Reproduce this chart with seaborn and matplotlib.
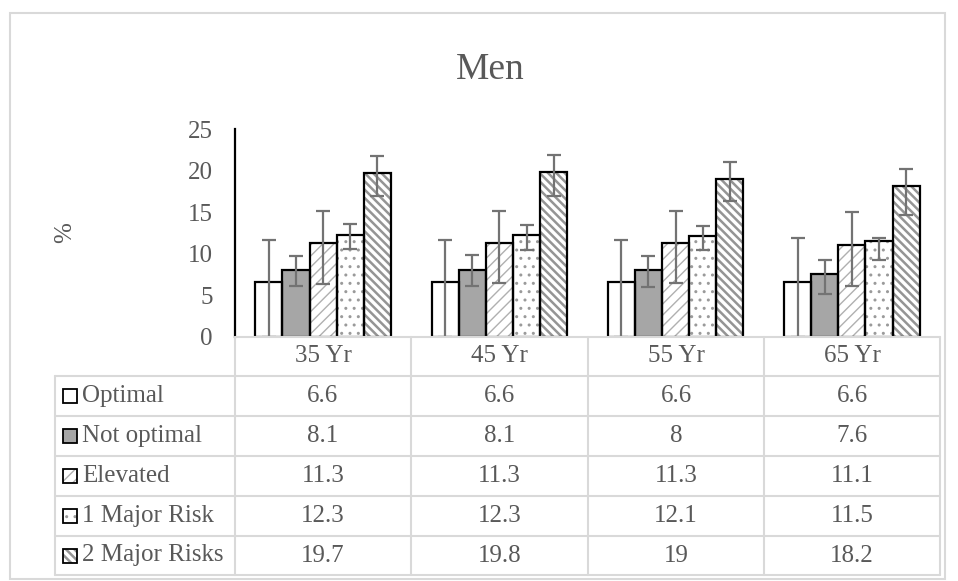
import matplotlib
matplotlib.use("Agg")
import matplotlib.pyplot as plt
from matplotlib.patches import Rectangle
from matplotlib.lines import Line2D
import pandas as pd
import seaborn as sns

# categories and series
ages = ['35 Yr', '45 Yr', '55 Yr', '65 Yr']
groups = ['Optimal', 'Not optimal', 'Elevated', '1 Major Risk', '2 Major Risks']

optimal = [6.6, 6.6, 6.6, 6.6]
not_optimal = [8.1, 8.1, 8, 7.6]
elevated = [11.3, 11.3, 11.3, 11.1]
one_major = [12.3, 12.3, 12.1, 11.5]
two_major = [19.7, 19.8, 19, 18.2]

# error bar ends
optimal_hi = [11.6, 11.6, 11.7, 11.9]
optimal_lo = [0, 0, 0, 0]
not_optimal_hi = [9.7, 9.8, 9.7, 9.2]
not_optimal_lo = [6.1, 6.1, 6.0, 5.1]
elevated_hi = [15.1, 15.1, 15.1, 15.0]
elevated_lo = [6.4, 6.5, 6.5, 6.1]
one_major_hi = [13.6, 13.5, 13.4, 11.9]
one_major_lo = [10.6, 10.5, 10.4, 9.2]
two_major_hi = [21.8, 21.9, 21.0, 20.2]
two_major_lo = [17.0, 17.0, 16.4, 14.7]

values = [optimal, not_optimal, elevated, one_major, two_major]
highs = [optimal_hi, not_optimal_hi, elevated_hi, one_major_hi, two_major_hi]
lows = [optimal_lo, not_optimal_lo, elevated_lo, one_major_lo, two_major_lo]

fills = ['white', '#a6a6a6', 'white', 'white', 'white']
hatches = ['', '', '///', '..', '\\\\\\\\']
hatch_cols = ['black', 'black', '#b0b0b0', '#9a9a9a', '#959595']
hatch_lw = [1.0, 1.0, 1.0, 1.0, 1.8]

text_col = '#595959'
grid_col = '#d9d9d9'

sns.set_theme(style='white')
plt.rcParams['font.family'] = ['Liberation Serif', 'DejaVu Serif']

rows = []
for g, vals in zip(groups, values):
    for a, v in zip(ages, vals):
        rows.append({'age': a, 'group': g, 'value': v})
df = pd.DataFrame(rows)

W, H = 958, 581
def fx(x):
    return x / W
def fy(y):
    return 1 - y / H

fig = plt.figure(figsize=(9.58, 5.81), dpi=100)
ax = fig.add_axes([fx(235), fy(336.7), (940 - 235) / W, (336.7 - 129.3) / H])

sns.barplot(data=df, x='age', y='value', hue='group', order=ages, hue_order=groups,
            palette=fills, saturation=1, width=0.77, errorbar=None, legend=False,
            linewidth=0, ax=ax)

bar_conts = list(ax.containers)
for i, cont in enumerate(bar_conts):
    xs = []
    for p in cont:
        p.set_hatch(hatches[i])
        p.set_edgecolor(hatch_cols[i])
        p.set_linewidth(0)
        if hasattr(p, 'set_hatch_linewidth'):
            p.set_hatch_linewidth(hatch_lw[i])
        ax.add_patch(Rectangle(p.get_xy(), p.get_width(), p.get_height(),
                               fill=False, edgecolor='black', lw=1.6, zorder=3))
        xs.append(p.get_x() + p.get_width() / 2)
    v = values[i]
    yerr = [[v[k] - lows[i][k] for k in range(4)], [highs[i][k] - v[k] for k in range(4)]]
    ax.errorbar(xs, v, yerr=yerr, fmt='none', ecolor='#737373', elinewidth=1.6,
                capsize=4.7, capthick=1.6, zorder=5)

ax.set_xlim(-0.5, 3.5)
ax.set_ylim(0, 25)
ax.set_yticks([0, 5, 10, 15, 20, 25])
ax.set_xticks([])
ax.set_xlabel('')
ax.set_ylabel('')
ax.tick_params(axis='y', length=0, pad=16, labelsize=18, labelcolor=text_col)
for s in ['top', 'right', 'bottom']:
    ax.spines[s].set_visible(False)
ax.spines['left'].set_color('black')
ax.spines['left'].set_linewidth(1.6)
ax.spines['left'].set_zorder(6)
ax.patch.set_alpha(0)

# data table under the plot
col_x = [235, 411, 588, 764, 940]
row_y = [337, 376, 416, 456, 496, 536, 575]
left_x = 55

def hline(x0, x1, y):
    fig.add_artist(Line2D([fx(x0), fx(x1)], [fy(y), fy(y)], color=grid_col, lw=1.5))
def vline(x, y0, y1):
    fig.add_artist(Line2D([fx(x), fx(x)], [fy(y0), fy(y1)], color=grid_col, lw=1.5))

hline(col_x[0], col_x[-1], row_y[0])
for y in row_y[1:]:
    hline(left_x, col_x[-1], y)
for x in col_x:
    vline(x, row_y[0], row_y[-1])
vline(left_x, row_y[1], row_y[-1])

for j, a in enumerate(ages):
    cx = (col_x[j] + col_x[j + 1]) / 2
    fig.text(fx(cx), fy((row_y[0] + row_y[1]) / 2), a, ha='center', va='center',
             size=18, color=text_col)

for i, g in enumerate(groups):
    cy = (row_y[i + 1] + row_y[i + 2]) / 2
    key = Rectangle((fx(63), fy(cy + 7)), 14 / W, 14 / H, transform=fig.transFigure,
                    facecolor=fills[i], edgecolor=hatch_cols[i], hatch=hatches[i], lw=0)
    if hasattr(key, 'set_hatch_linewidth'):
        key.set_hatch_linewidth(hatch_lw[i])
    fig.add_artist(key)
    fig.add_artist(Rectangle((fx(63), fy(cy + 7)), 14 / W, 14 / H, transform=fig.transFigure,
                             fill=False, edgecolor='black', lw=1.3))
    fig.text(fx(82), fy(cy), g, ha='left', va='center', size=18, color=text_col)
    for j in range(4):
        cx = (col_x[j] + col_x[j + 1]) / 2
        fig.text(fx(cx), fy(cy), f'{values[i][j]:g}', ha='center', va='center',
                 size=18, color=text_col)

fig.text(fx(490), fy(70), 'Men', ha='center', va='center', size=27, color=text_col)
fig.text(fx(65), fy(233), '%', ha='center', va='center', rotation=90, size=18, color=text_col)

# outer chart frame
fig.add_artist(Rectangle((fx(10), fy(579)), 935 / W, 566 / H, transform=fig.transFigure,
                         fill=False, edgecolor=grid_col, lw=1.5))

fig.savefig('out.png', dpi=100)
